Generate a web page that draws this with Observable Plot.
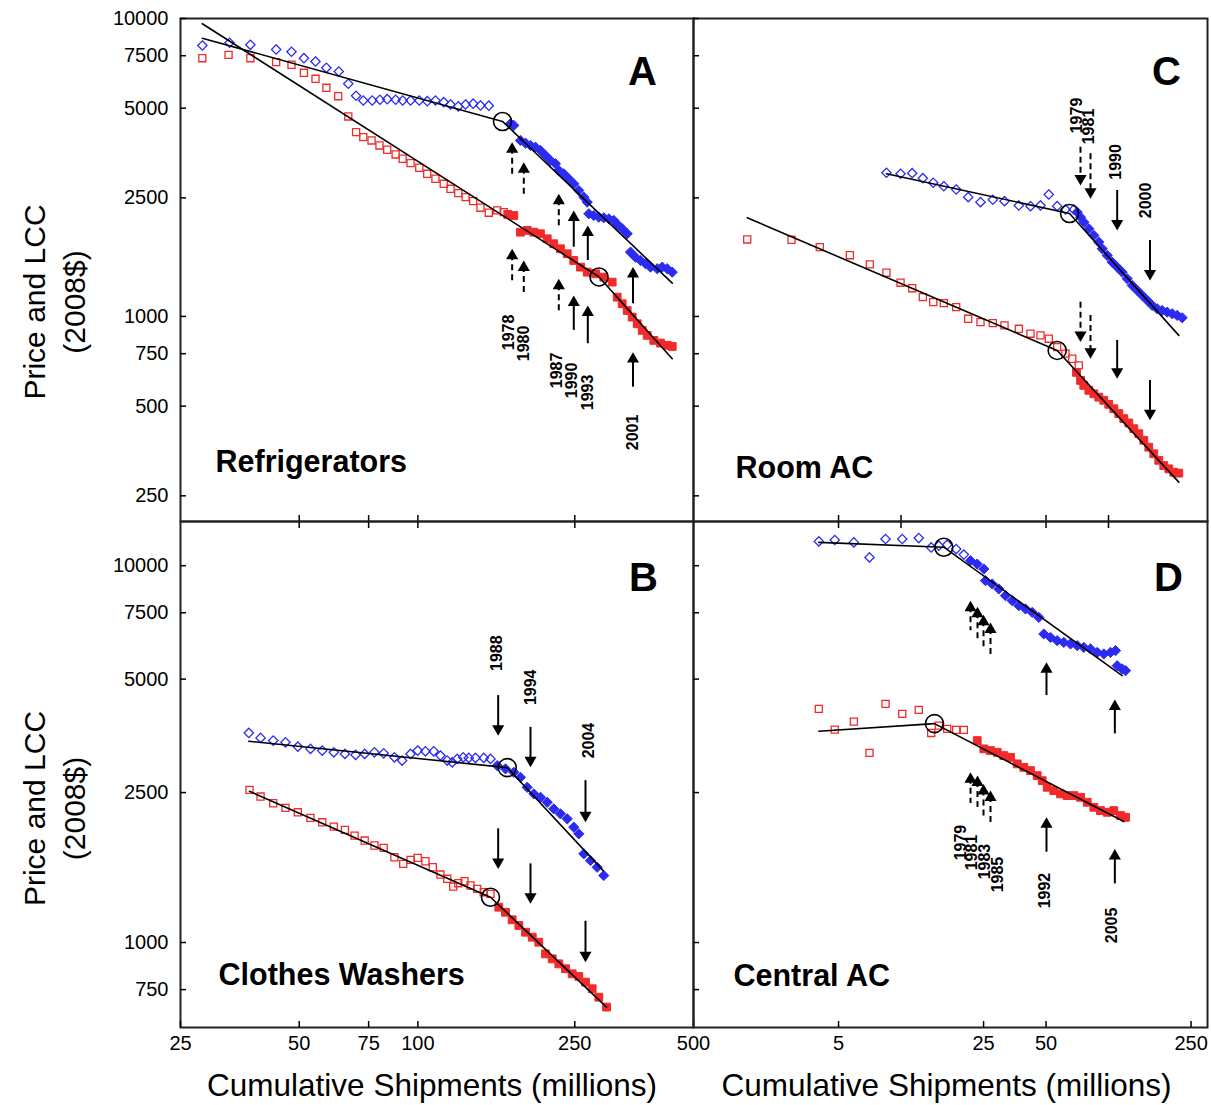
<!DOCTYPE html>
<html><head><meta charset="utf-8">
<script src="https://cdn.jsdelivr.net/npm/d3@7"></script>
<script src="https://cdn.jsdelivr.net/npm/@observablehq/plot@0.6"></script>
<style>
body{margin:0;background:#fff;}
#wrap{position:relative;width:1211px;height:1105px;overflow:hidden;background:#fff;}
</style></head><body><div id="wrap"></div>
<script>
// ---------- tick labels ----------
const yTicksTop = [250, 500, 750, 1000, 2500, 5000, 7500, 10000];
const yTicksBottom = [750, 1000, 2500, 5000, 7500, 10000];
const xTicksLeft = [25, 50, 75, 100, 250, 500];
const xTicksLeftInner = [50, 75, 100, 250];
const xTicksRight = [5, 25, 50, 250];
const xTicksRightInner = [5, 10, 50, 100];

// ---------- Panel A: Refrigerators ----------
const aBlueOpenX = [28.4, 33.3, 37.6, 43.7, 47.8, 51.4, 55.0, 58.6, 63.0, 66.6, 69.7, 72.7, 76.6, 80.1, 83.6, 87.8, 91.5, 95.8, 100.8, 105.6, 110.8, 116.3, 121.0, 126.6, 132.1, 138.1, 144.1, 151.3];
const aBlueOpenY = [8118, 8289, 8161, 7870, 7732, 7359, 7173, 6832, 6638, 6038, 5503, 5306, 5306, 5336, 5360, 5336, 5306, 5306, 5306, 5278, 5306, 5237, 5145, 5070, 5145, 5177, 5106, 5098];
const aBlueFillX = [171.7, 175.1, 182.0, 187.5, 193.0, 198.7, 204.6, 210.7, 216.9, 223.3, 227.7, 234.4, 241.4, 248.5, 255.9, 263.5, 268.8, 271.3, 279.3, 287.6, 296.1, 304.9, 313.9, 320.8, 329.7, 339.5, 346.1, 356.4, 366.9, 377.8, 389.0, 404.5, 416.5, 428.8, 441.6];
const aBlueFillY = [4434, 4376, 3896, 3816, 3749, 3700, 3607, 3470, 3339, 3255, 3090, 3012, 2898, 2788, 2647, 2514, 2419, 2211, 2182, 2154, 2144, 2127, 2100, 2036, 1970, 1895, 1644, 1581, 1541, 1503, 1464, 1446, 1464, 1446, 1408];
const aRedOpenX = [28.4, 33.1, 37.6, 43.7, 47.8, 51.4, 55.0, 58.6, 62.8, 66.6, 69.7, 72.7, 76.3, 79.9, 83.6, 87.8, 91.5, 95.8, 100.8, 105.6, 110.8, 116.3, 121.0, 126.6, 132.1, 138.1, 144.1, 151.3, 158.9, 165.1];
const aRedOpenY = [7359, 7552, 7359, 7136, 6994, 6573, 6275, 5853, 5486, 4691, 4154, 3997, 3896, 3749, 3626, 3497, 3383, 3269, 3155, 3012, 2898, 2788, 2682, 2593, 2514, 2438, 2317, 2229, 2269, 2239];
const aRedFillX = [169.0, 175.1, 182.0, 189.3, 196.8, 204.6, 212.8, 221.1, 229.9, 239.2, 248.5, 258.4, 268.8, 282.1, 296.1, 311.0, 320.2, 329.7, 339.5, 349.5, 359.9, 370.6, 381.5, 396.6, 412.4, 428.8, 441.6];
const aRedFillY = [2200, 2182, 1918, 1944, 1918, 1895, 1822, 1754, 1687, 1623, 1541, 1464, 1408, 1391, 1355, 1304, 1161, 1103, 1047, 995, 945, 898, 864, 831, 814, 800, 793];
const aBlueFitX = [28.4, 163.9, 441.6], aBlueFitY = [8588, 4513, 1294];
const aRedFitX = [28.4, 288.0, 441.6], aRedFitY = [9599, 1357, 721];
const aBreakX = [163.9, 288.0], aBreakY = [4513, 1357];
const aYears = ["1978", "1980", "1987", "1990", "1993", "2001"];
const aArrowX = [173.4, 185.6, 227.7, 248.5, 269.7, 351.2];
const aDashed = [1, 1, 1, 0, 0, 0];
const aUpTip = [3845, 3295, 2581, 2269, 2020, 1464], aUpTail = [2934, 2547, 1994, 1708, 1541, 1103];
const aLoTip = [1687, 1541, 1338, 1176, 1089, 759], aLoTail = [1304, 1192, 1021, 898, 810, 579];
const aLabelX = [169.7, 185.3, 225.6, 246.2, 269.7, 351.6], aLabelY = [884, 812, 659, 610, 556, 408];

// ---------- Panel C: Room AC ----------
const cBlueOpenX = [8.51, 9.95, 11.32, 12.74, 14.30, 16.08, 18.45, 21.08, 24.16, 27.70, 31.54, 36.96, 42.08, 47.02, 51.56, 56.58, 62.05, 68.05];
const cBlueOpenY = [3035, 3012, 3026, 2911, 2810, 2736, 2668, 2514, 2419, 2464, 2438, 2358, 2345, 2358, 2567, 2345, 2286, 2286];
const cBlueFillX = [70.7, 73.3, 76.0, 80.4, 85.0, 89.8, 93.3, 98.6, 104.2, 110.1, 116.4, 123.1, 130.1, 137.5, 145.4, 153.7, 162.4, 171.7, 181.4, 191.8, 202.8, 214.3, 226.5];
const cBlueFillY = [2239, 2154, 2072, 1970, 1870, 1776, 1687, 1602, 1521, 1464, 1408, 1338, 1271, 1223, 1176, 1132, 1089, 1061, 1047, 1034, 1021, 1008, 990];
const cRedOpenX = [1.815, 2.967, 4.06, 5.67, 7.07, 8.51, 9.95, 11.32, 12.74, 14.30, 16.08, 18.45, 21.08, 24.16, 27.70, 31.54, 36.96, 42.08, 47.02, 51.56, 56.58, 62.05, 66.9, 71.9];
const cRedOpenY = [1813, 1808, 1708, 1605, 1495, 1402, 1298, 1244, 1161, 1117, 1108, 1075, 982, 957, 950, 933, 909, 875, 864, 842, 789, 750, 721, 685];
const cRedFillX = [70.1, 73.3, 76.0, 80.4, 85.0, 89.8, 94.9, 100.3, 106.1, 112.1, 118.5, 125.3, 132.4, 140.0, 148.0, 156.4, 165.3, 174.7, 184.7, 195.3, 206.4, 218.2];
const cRedFillY = [649, 610, 587, 565, 550, 536, 523, 507, 490, 472, 454, 439, 420, 404, 384, 364, 346, 329, 316, 308, 300, 298];
const cBlueFitX = [8.51, 64.9, 218.2], cBlueFitY = [3012, 2216, 864];
const cRedFitX = [1.815, 56.58, 218.2], cRedFitY = [2144, 769, 278];
const cBreakX = [64.9, 56.58], cBreakY = [2216, 769];
const cYears = ["1979", "1981", "1990", "2000"];
const cArrowX = [73.3, 81.9, 110.1, 158.5];
const cDashed = [1, 1, 0, 0];
const cUpTip = [2751, 2483, 1944, 1321], cUpTail = [3700, 3516, 2647, 1799];
const cLoTip = [820, 721, 618, 448], cLoTail = [1117, 1008, 831, 610];
const cLabelX = [70.7, 80.4, 108.1, 150.8], cLabelY = [4726, 4341, 3300, 2451];

// ---------- Panel B: Clothes Washers ----------
const bBlueOpenX = [37.25, 39.9, 42.96, 46.15, 49.6, 53.4, 57.2, 61.2, 65.3, 69.5, 73.3, 77.6, 81.9, 87.2, 91.2, 95.8, 99.9, 104.5, 109.7, 114.1, 118.7, 122.2, 125.8, 130.3, 134.6, 140.0, 146.9, 152.8];
const bBlueOpenY = [3599, 3492, 3435, 3399, 3311, 3265, 3231, 3197, 3166, 3147, 3166, 3197, 3178, 3101, 3040, 3166, 3231, 3217, 3217, 3134, 3040, 3008, 3071, 3101, 3090, 3090, 3090, 3071];
const bBlueFillX = [158.9, 166.8, 175.1, 182.0, 189.3, 196.8, 204.6, 212.8, 221.1, 229.9, 239.2, 248.5, 255.9, 263.5, 274.0, 284.9, 296.1];
const bBlueFillY = [2948, 2889, 2830, 2744, 2582, 2480, 2429, 2356, 2263, 2195, 2129, 2023, 1943, 1719, 1650, 1584, 1506];
const bRedOpenX = [37.4, 39.9, 42.96, 46.15, 49.6, 53.4, 57.2, 61.2, 65.3, 69.1, 73.3, 77.6, 81.9, 87.2, 91.8, 95.8, 99.9, 104.5, 109.1, 114.1, 118.7, 122.9, 126.6, 131.3, 136.0, 141.4, 146.9, 152.8];
const bRedOpenY = [2541, 2440, 2342, 2277, 2216, 2142, 2085, 2031, 1991, 1922, 1865, 1809, 1783, 1684, 1617, 1657, 1677, 1643, 1584, 1515, 1476, 1408, 1437, 1454, 1417, 1388, 1360, 1346];
const bRedFillX = [160.4, 166.8, 173.4, 180.3, 187.5, 195.0, 202.6, 210.7, 219.1, 227.7, 236.8, 246.2, 255.9, 266.1, 276.7, 287.6, 300.9];
const bRedFillY = [1241, 1203, 1149, 1110, 1065, 1033, 1002, 933, 905, 878, 852, 826, 813, 785, 754, 716, 674];
const bBlueFitX = [37.25, 168.5, 295.1], bBlueFitY = [3420, 2912, 1552];
const bRedFitX = [37.4, 152.8, 300.9], bRedFitY = [2519, 1319, 674];
const bBreakX = [168.5, 152.8], bBreakY = [2912, 1319];
const bYears = ["1988", "1994", "2004"];
const bArrowX = [159.8, 193.0, 266.1];
const bDashed = [0, 0, 0];
const bUpTip = [3540, 2917, 2085], bUpTail = [4521, 3724, 2689];
const bLoTip = [1568, 1267, 887], bLoTail = [2003, 1617, 1139];
const bLabelX = [158.9, 193.0, 270.8], bLabelY = [5861, 4756, 3435];

// ---------- Panel D: Central AC ----------
const dBlueOpenX = [4.018, 4.797, 5.925, 7.049, 8.422, 10.14, 12.18, 13.98, 15.21, 16.70, 18.45, 20.08];
const dBlueOpenY = [11600, 11700, 11530, 10520, 11770, 11770, 11840, 11180, 11300, 11370, 11070, 10700];
const dBlueFillX = [21.63, 23.30, 25.07, 25.54, 27.51, 29.60, 31.89, 34.35, 36.96, 39.81, 42.89, 46.15, 48.78, 52.53, 56.58, 60.90, 65.6, 70.7, 76.0, 81.9, 88.23, 94.9, 102.2, 108.1, 110.1, 116.4, 120.8];
const dBlueFillY = [10311, 10100, 9800, 9125, 8942, 8674, 8326, 8076, 7832, 7676, 7518, 7292, 6588, 6453, 6325, 6259, 6198, 6134, 6071, 6012, 5888, 5831, 5888, 5950, 5429, 5321, 5266];
const dRedOpenX = [4.018, 4.797, 5.925, 7.049, 8.422, 10.14, 12.18, 13.98, 15.21, 16.70, 18.45, 20.08];
const dRedOpenY = [4168, 3673, 3857, 3186, 4297, 4044, 4143, 3599, 3764, 3689, 3666, 3666];
const dRedFillX = [23.30, 25.07, 27.00, 29.08, 31.29, 33.71, 36.31, 39.06, 42.08, 45.34, 47.92, 50.64, 54.50, 58.71, 63.23, 68.05, 73.3, 78.96, 85.0, 91.5, 98.6, 106.1, 114.3, 120.8];
const dRedFillY = [3435, 3265, 3231, 3197, 3134, 3101, 2979, 2917, 2859, 2773, 2689, 2582, 2530, 2480, 2454, 2454, 2429, 2356, 2285, 2239, 2216, 2239, 2172, 2149];
const dBlueFitX = [4.018, 16.08, 116.4], dBlueFitY = [11530, 11196, 5108];
const dRedFitX = [4.018, 14.50, 118.5], dRedFitY = [3635, 3810, 2094];
const dBreakX = [16.08, 14.50], dBreakY = [11196, 3810];
const dYears = ["1979", "1981", "1983", "1985", "1992", "2005"];
const dArrowX = [21.63, 23.37, 24.98, 27.00, 50.25, 107.3];
const dDashed = [1, 1, 1, 1, 0, 0];
const dUpTip = [8076, 7784, 7413, 7062, 5540, 4412], dUpTail = [6723, 6404, 6060, 5735, 4521, 3577];
const dLoTip = [2830, 2773, 2636, 2530, 2149, 1772], dLoTail = [2337, 2239, 2145, 2069, 1736, 1431];
const dLabelX = [19.36, 21.87, 25.26, 29.18, 49.2, 104.2], dLabelY = [1842, 1733, 1640, 1515, 1374, 1110];

// ---------- helpers ----------
const FONT = '"Liberation Sans", Arial, Helvetica, sans-serif';
const BLUE = "#2b2bf2", RED = "#f22a2a";
const pts = (xs, ys) => xs.map((x, i) => ({x, y: ys[i]}));

function arrowMarks(xs, dashed, upTip, upTail, loTip, loTail, dir) {
  const rows = [];
  xs.forEach((x, i) => {
    rows.push({x, tip: upTip[i], tail: upTail[i], dashed: dashed[i]});
    rows.push({x, tip: loTip[i], tail: loTail[i], dashed: dashed[i]});
  });
  const up = dir === "up";
  const shaft = (data, dash) => Plot.ruleX(data, up
    ? {x: "x", y1: "tip", y2: "tail", insetTop: 6, stroke: "black", strokeWidth: 2, strokeDasharray: dash}
    : {x: "x", y1: "tail", y2: "tip", insetBottom: 6, stroke: "black", strokeWidth: 2, strokeDasharray: dash});
  return [
    shaft(rows.filter(d => !d.dashed), null),
    shaft(rows.filter(d => d.dashed), "6,4"),
    Plot.dot(rows, {x: "x", y: "tip", symbol: "triangle", r: 4.5, fill: "black", stroke: "none", rotate: up ? 0 : 180, dy: up ? 7 : -7})
  ];
}

function panel(c) {
  const marks = [
    Plot.frame({stroke: "#222", strokeWidth: 2}),
    Plot.axisY({ticks: c.yTicks, tickSize: -6, tickPadding: 0, tickFormat: () => "", strokeWidth: 1.5, label: null}),
    Plot.axisX({anchor: "bottom", ticks: c.xTicks, tickSize: -6, tickPadding: 0, tickFormat: () => "", strokeWidth: 1.5, label: null}),
  ];
  if (c.yLabels) marks.push(Plot.text(c.yTicks, {y: d => d, text: d => String(d), frameAnchor: "left", dx: -12, textAnchor: "end", lineAnchor: "middle", fontSize: 20, fill: "black"}));
  if (c.xLabels) marks.push(Plot.text(c.xTicks, {x: d => d, text: d => String(d), frameAnchor: "bottom", dy: 8, textAnchor: "middle", lineAnchor: "top", fontSize: 20, fill: "black"}));
  if (c.xTicksTop) marks.push(Plot.axisX({anchor: "top", ticks: c.xTicksTop, tickSize: -6, tickPadding: 0, tickFormat: () => "", strokeWidth: 1.5, label: null}));
  marks.push(
    Plot.dot(pts(c.blueOpen[0], c.blueOpen[1]), {x: "x", y: "y", symbol: "diamond2", r: 4.2, stroke: BLUE, fill: "none", strokeWidth: 1.3}),
    Plot.dot(pts(c.redOpen[0], c.redOpen[1]), {x: "x", y: "y", symbol: "square", r: 4, stroke: RED, fill: "none", strokeWidth: 1.3}),
    Plot.dot(pts(c.blueFill[0], c.blueFill[1]), {x: "x", y: "y", symbol: "diamond2", r: 4.6, stroke: BLUE, fill: BLUE, strokeWidth: 1}),
    Plot.dot(pts(c.redFill[0], c.redFill[1]), {x: "x", y: "y", symbol: "square", r: 4.4, stroke: RED, fill: RED, strokeWidth: 1}),
    Plot.line(pts(c.blueFit[0], c.blueFit[1]), {x: "x", y: "y", stroke: "black", strokeWidth: 1.6}),
    Plot.line(pts(c.redFit[0], c.redFit[1]), {x: "x", y: "y", stroke: "black", strokeWidth: 1.6}),
    Plot.dot(pts(c.breaks[0], c.breaks[1]), {x: "x", y: "y", r: 9, stroke: "black", fill: "none", strokeWidth: 1.6}),
    ...arrowMarks(c.arrowX, c.dashed, c.upTip, c.upTail, c.loTip, c.loTail, c.dir),
    Plot.text(c.years.map((t, i) => ({t, x: c.labelX[i], y: c.labelY[i]})), {x: "x", y: "y", text: "t", rotate: -90, fontSize: 16, fontWeight: "bold", textAnchor: "middle", lineAnchor: "middle", fill: "black"}),
    Plot.text([c.letter], {frameAnchor: "top-right", dx: c.letterDx, dy: c.letterDy, fontSize: 40, fontWeight: "bold", textAnchor: "middle", lineAnchor: "middle", fill: "black"}),
    Plot.text([c.name], {frameAnchor: "top-left", dx: c.nameDx, dy: c.nameDy, fontSize: 30.5, fontWeight: "bold", textAnchor: "start", lineAnchor: "middle", fill: "black"})
  );
  if (c.yTitle) marks.push(Plot.text(["Price and LCC\n(2008$)"], {frameAnchor: "left", dx: -128, dy: c.yTitleDy, rotate: -90, fontSize: 30, lineHeight: 1.33, textAnchor: "middle", lineAnchor: "middle", fill: "black"}));
  if (c.xTitle) marks.push(Plot.text(["Cumulative Shipments (millions)"], {frameAnchor: "bottom", dx: c.xTitleDx, dy: 58, fontSize: 31.5, textAnchor: "middle", lineAnchor: "middle", fill: "black"}));
  const svg = Plot.plot({
    width: c.w, height: c.h,
    marginLeft: c.m[3], marginTop: c.m[0], marginRight: c.m[1], marginBottom: c.m[2],
    x: {type: "log", domain: c.xDomain},
    y: {type: "log", domain: c.yDomain},
    style: `position:absolute;left:${c.left}px;top:${c.top}px;background:none;overflow:visible;font-family:${FONT};color:black;`,
    marks
  });
  document.getElementById("wrap").appendChild(svg);
}

panel({left: 0, top: 0, w: 695, h: 523, m: [18, 2, 2, 180], xDomain: [25, 500], yDomain: [205, 10000],
  yTicks: yTicksTop, yLabels: true, xTicks: xTicksLeftInner, xLabels: false,
  blueOpen: [aBlueOpenX, aBlueOpenY], redOpen: [aRedOpenX, aRedOpenY], blueFill: [aBlueFillX, aBlueFillY], redFill: [aRedFillX, aRedFillY],
  blueFit: [aBlueFitX, aBlueFitY], redFit: [aRedFitX, aRedFitY], breaks: [aBreakX, aBreakY],
  years: aYears, arrowX: aArrowX, dashed: aDashed, upTip: aUpTip, upTail: aUpTail, loTip: aLoTip, loTail: aLoTail, labelX: aLabelX, labelY: aLabelY, dir: "up",
  letter: "A", letterDx: -51, letterDy: 54, name: "Refrigerators", nameDx: 35, nameDy: 444, yTitle: true, yTitleDy: 32});

panel({left: 691, top: 0, w: 520, h: 523, m: [18, 4, 2, 2], xDomain: [1, 300], yDomain: [205, 10000],
  yTicks: yTicksTop, yLabels: false, xTicks: xTicksRightInner, xLabels: false,
  blueOpen: [cBlueOpenX, cBlueOpenY], redOpen: [cRedOpenX, cRedOpenY], blueFill: [cBlueFillX, cBlueFillY], redFill: [cRedFillX, cRedFillY],
  blueFit: [cBlueFitX, cBlueFitY], redFit: [cRedFitX, cRedFitY], breaks: [cBreakX, cBreakY],
  years: cYears, arrowX: cArrowX, dashed: cDashed, upTip: cUpTip, upTail: cUpTail, loTip: cLoTip, loTail: cLoTail, labelX: cLabelX, labelY: cLabelY, dir: "down",
  letter: "C", letterDx: -41, letterDy: 54, name: "Room AC", nameDx: 42, nameDy: 450});

panel({left: 0, top: 519, w: 695, h: 586, m: [2, 2, 78, 180], xDomain: [25, 500], yDomain: [595, 13100],
  yTicks: yTicksBottom, yLabels: true, xTicks: xTicksLeft, xLabels: true, xTicksTop: xTicksLeftInner,
  blueOpen: [bBlueOpenX, bBlueOpenY], redOpen: [bRedOpenX, bRedOpenY], blueFill: [bBlueFillX, bBlueFillY], redFill: [bRedFillX, bRedFillY],
  blueFit: [bBlueFitX, bBlueFitY], redFit: [bRedFitX, bRedFitY], breaks: [bBreakX, bBreakY],
  years: bYears, arrowX: bArrowX, dashed: bDashed, upTip: bUpTip, upTail: bUpTail, loTip: bLoTip, loTail: bLoTail, labelX: bLabelX, labelY: bLabelY, dir: "down",
  letter: "B", letterDx: -50, letterDy: 57, name: "Clothes Washers", nameDx: 38, nameDy: 454, yTitle: true, yTitleDy: 34, xTitle: true, xTitleDx: -5});

panel({left: 691, top: 519, w: 520, h: 586, m: [2, 4, 78, 2], xDomain: [1, 300], yDomain: [595, 13100],
  yTicks: yTicksBottom, yLabels: false, xTicks: xTicksRight, xLabels: true, xTicksTop: xTicksRightInner,
  blueOpen: [dBlueOpenX, dBlueOpenY], redOpen: [dRedOpenX, dRedOpenY], blueFill: [dBlueFillX, dBlueFillY], redFill: [dRedFillX, dRedFillY],
  blueFit: [dBlueFitX, dBlueFitY], redFit: [dRedFitX, dRedFitY], breaks: [dBreakX, dBreakY],
  years: dYears, arrowX: dArrowX, dashed: dDashed, upTip: dUpTip, upTail: dUpTail, loTip: dLoTip, loTail: dLoTail, labelX: dLabelX, labelY: dLabelY, dir: "up",
  letter: "D", letterDx: -39, letterDy: 57, name: "Central AC", nameDx: 40, nameDy: 455, xTitle: true, xTitleDx: -4});
</script></body></html>
